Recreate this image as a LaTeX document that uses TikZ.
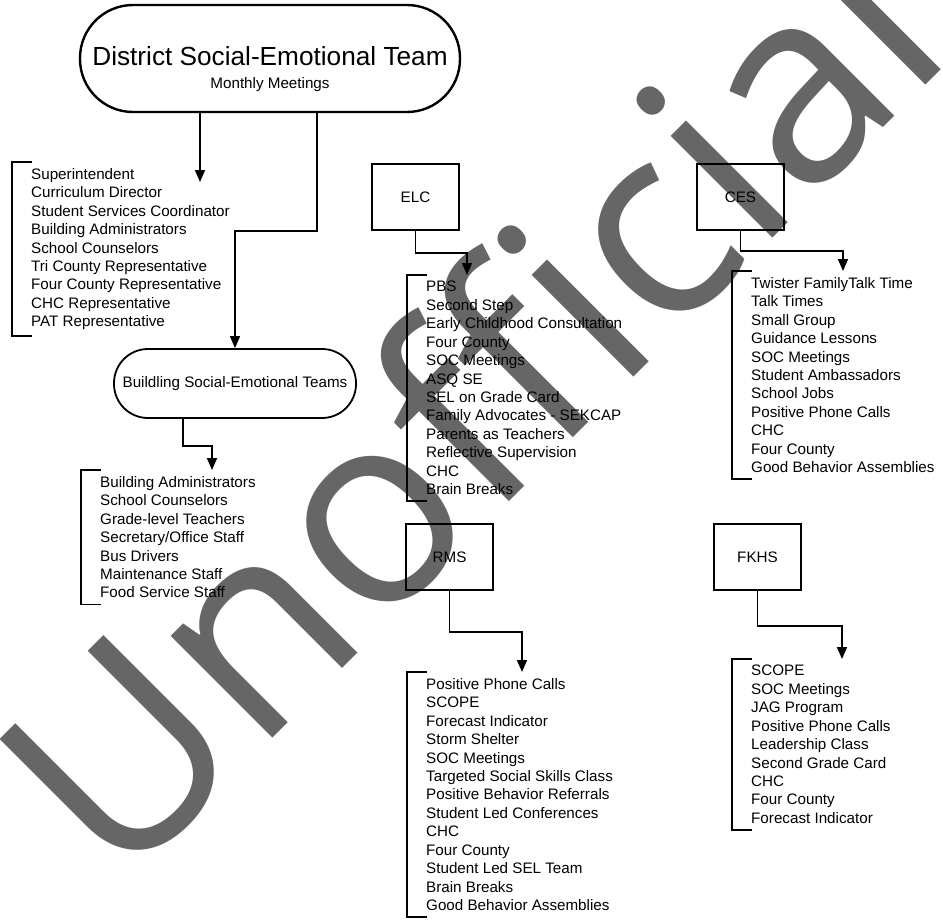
\documentclass[tikz,border=0pt]{standalone}
\usepackage{fontspec}
\setmainfont{Liberation Sans}
\newfontfamily\wmfont{Open Sans}
\usetikzlibrary{arrows.meta,positioning,shapes,calc}

\begin{document}
\begin{tikzpicture}[x=1pt, y=-1pt,
        font=\fontsize{15.2}{18.45}\selectfont,
        stadium/.style={rectangle, draw, line width=1.8pt, rounded corners=#1},
        school/.style={rectangle, draw, line width=1.6pt, minimum width=87pt, minimum height=66pt},
        members/.style={anchor=north west, align=left, inner xsep=19pt, inner ysep=6pt},
        brace/.style={line width=1.5pt},
        arrow/.style={-{Triangle[length=12pt,width=10pt]}, line width=1.6pt}
    ]
    \useasboundingbox (0,0) rectangle (943,919);

    % watermark
    \node[rotate=45, anchor=base west, inner sep=0pt, text=black!60,
          font=\wmfont\fontsize{269}{269}\selectfont] (wm) at (118,893) {Unofficial};

    \node[stadium=53pt, minimum width=380pt, minimum height=107pt, line width=2.4pt,
          label={[yshift=-10.5pt, align=center, font=\fontsize{15.2}{23.5}\selectfont]center:{\fontsize{26.2}{23.5}\selectfont District Social-Emotional Team}\\Monthly Meetings}]
          (district) at (270,58.5) {};
    \node[stadium=34pt, minimum width=242pt, minimum height=69pt] (building) at (235,383.5) {Buildling Social-Emotional Teams};

    \node[school] (elc) at (415.5,197) {ELC};
    \node[school] (ces) at (740.5,197) {CES};
    \node[school] (rms) at (449.5,557) {RMS};
    \node[school] (fkhs) at (757.5,557) {FKHS};

    \node[members] (suptlist) at (12,162) {Superintendent\\Curriculum Director\\Student Services Coordinator\\Building Administrators\\School Counselors\\Tri County Representative\\Four County Representative\\CHC Representative\\PAT Representative};
    \node[members] (bldglist) at (81,470) {Building Administrators\\School Counselors\\Grade-level Teachers\\Secretary/Office Staff\\Bus Drivers\\Maintenance Staff\\Food Service Staff};
    \node[members] (elclist) at (407,275) {PBS\\Second Step\\Early Childhood Consultation\\Four County\\SOC Meetings\\ASQ SE\\SEL on Grade Card\\Family Advocates - SEKCAP\\Parents as Teachers\\Reflective Supervision\\CHC\\Brain Breaks};
    \node[members] (ceslist) at (732,271) {Twister FamilyTalk Time\\Talk Times\\Small Group\\Guidance Lessons\\SOC Meetings\\Student Ambassadors\\School Jobs\\Positive Phone Calls\\CHC\\Four County\\Good Behavior Assemblies};
    \node[members] (rmslist) at (407,672) {Positive Phone Calls\\SCOPE\\Forecast Indicator\\Storm Shelter\\SOC Meetings\\Targeted Social Skills Class\\Positive Behavior Referrals\\Student Led Conferences\\CHC\\Four County\\Student Led SEL Team\\Brain Breaks\\Good Behavior Assemblies};
    \node[members] (fkhslist) at (732,659) {SCOPE\\SOC Meetings\\JAG Program\\Positive Phone Calls\\Leadership Class\\Second Grade Card\\CHC\\Four County\\Forecast Indicator};

    \foreach \lst in {suptlist,bldglist,elclist,ceslist,rmslist,fkhslist}
        \draw[brace] ([xshift=20pt]\lst.north west) -- (\lst.north west) -- (\lst.south west) -- ([xshift=20pt]\lst.south west);

    \coordinate (suptin) at (200,182);
    \draw[arrow] (district.south -| suptin) -- (suptin);
    \draw[arrow] ([xshift=47pt]district.south) -- ++(0,118) -| (building.north);
    \draw[arrow] ([xshift=-52pt]building.south) -- ++(0,27) -| ([xshift=131pt]bldglist.north west);
    \draw[arrow] (elc.south) -- ++(0,22) -| ([xshift=60pt]elclist.north west);
    \draw[arrow] (ces.south) -- ++(0,20) -| ([xshift=111pt]ceslist.north west);
    \draw[arrow] (rms.south) -- ++(0,41) -| ([xshift=115pt]rmslist.north west);
    \draw[arrow] (fkhs.south) -- ++(0,35) -| ([xshift=110pt]fkhslist.north west);
\end{tikzpicture}
\end{document}
